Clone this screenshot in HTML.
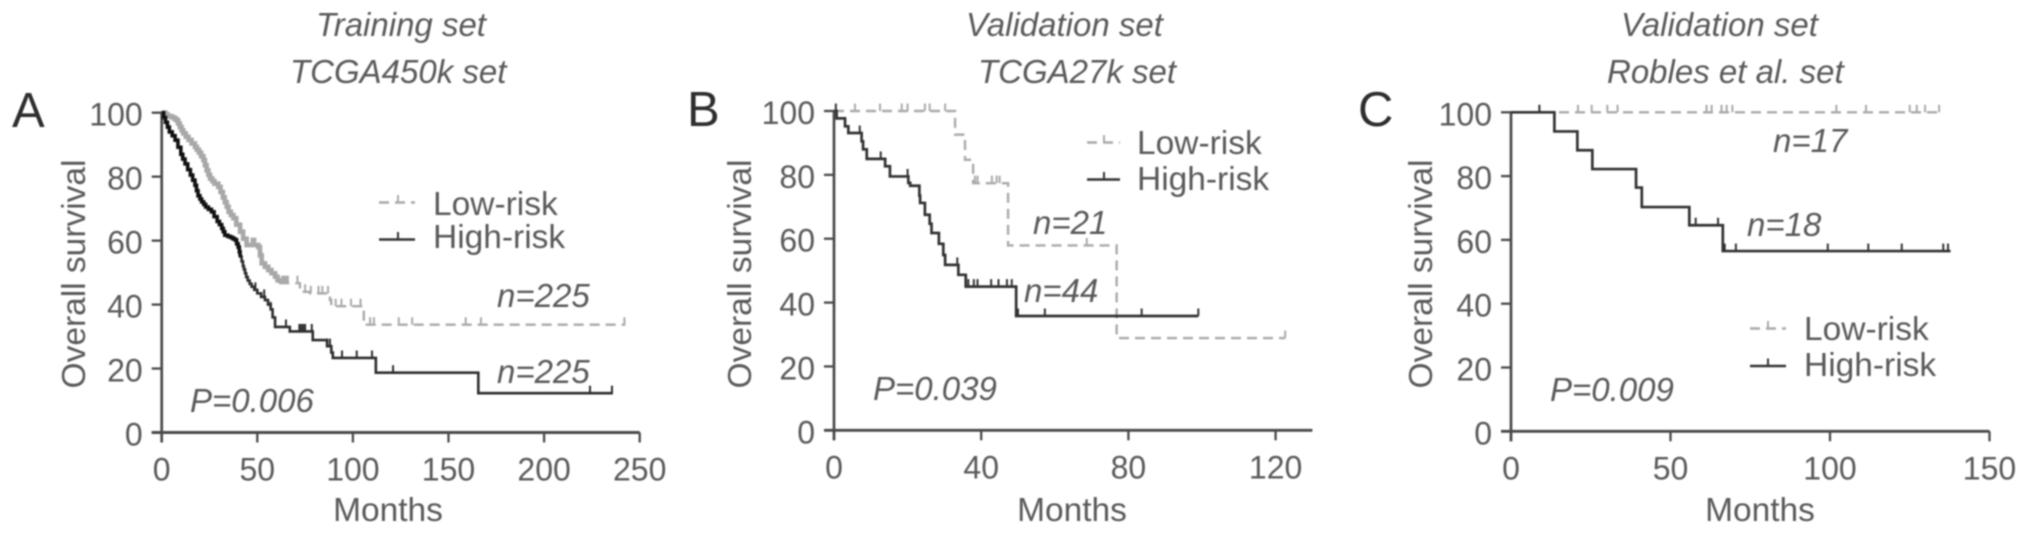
<!DOCTYPE html>
<html lang="en">
<head>
<meta charset="utf-8">
<title>Overall survival Kaplan-Meier curves</title>
<style>
html,body{margin:0;padding:0;background:#fff;width:2032px;height:536px;overflow:hidden}
svg{display:block;filter:blur(0.7px)}
text{font-family:"Liberation Sans",sans-serif;fill:#5a5a5a;font-size:32px}
.ital{font-style:italic;font-size:33px}
.legend,.xtitle{font-size:33.5px}
.letter{font-size:49px;fill:#2e2e2e}
.ytitle{font-size:33.5px}
</style>
</head>
<body>
<svg id="chart" xmlns="http://www.w3.org/2000/svg" width="2032" height="536" viewBox="0 0 2032 536">
<rect width="2032" height="536" fill="#fff"/>

<g id="panel-a">
  <text class="letter" x="12" y="127">A</text>
  <text class="ital" x="316" y="36">Training set</text>
  <text class="ital" x="290" y="83">TCGA450k set</text>
  <text class="ytitle" transform="translate(85,274) rotate(-90)" text-anchor="middle">Overall survival</text>
  <text class="xtitle" x="388" y="521" text-anchor="middle">Months</text>
  <line x1="379" y1="202.5" x2="415" y2="202.5" stroke="#aaa" stroke-width="2.4" stroke-dasharray="10 6"/>
  <line x1="398" y1="195" x2="398" y2="202.5" stroke="#aaa" stroke-width="2"/>
  <text class="legend" x="433" y="215">Low-risk</text>
  <line x1="379" y1="239.5" x2="415" y2="239.5" stroke="#333" stroke-width="2.6"/>
  <line x1="398" y1="232" x2="398" y2="239.5" stroke="#333" stroke-width="2"/>
  <text class="legend" x="433" y="248">High-risk</text>
  <text class="ital" x="497" y="307">n=225</text>
  <text class="ital" x="497" y="383">n=225</text>
  <text class="ital" x="190" y="412">P=0.006</text>
</g>

<g id="panel-b">
  <text class="letter" x="687" y="126">B</text>
  <text class="ital" x="966" y="36">Validation set</text>
  <text class="ital" x="978" y="83">TCGA27k set</text>
  <text class="ytitle" transform="translate(751,274) rotate(-90)" text-anchor="middle">Overall survival</text>
  <text class="xtitle" x="1072" y="521" text-anchor="middle">Months</text>
  <line x1="1087" y1="142.5" x2="1120" y2="142.5" stroke="#aaa" stroke-width="2.4" stroke-dasharray="10 6"/>
  <line x1="1104" y1="135" x2="1104" y2="142.5" stroke="#aaa" stroke-width="2"/>
  <text class="legend" x="1137" y="154">Low-risk</text>
  <line x1="1087" y1="179.5" x2="1120" y2="179.5" stroke="#333" stroke-width="2.6"/>
  <line x1="1104" y1="172" x2="1104" y2="179.5" stroke="#333" stroke-width="2"/>
  <text class="legend" x="1137" y="190">High-risk</text>
  <text class="ital" x="1033" y="234">n=21</text>
  <text class="ital" x="1024" y="302">n=44</text>
  <text class="ital" x="873" y="400">P=0.039</text>
</g>

<g id="panel-c">
  <text class="letter" x="1358" y="126">C</text>
  <text class="ital" x="1621" y="36">Validation set</text>
  <text class="ital" x="1607" y="83">Robles et al. set</text>
  <text class="ytitle" transform="translate(1432,274) rotate(-90)" text-anchor="middle">Overall survival</text>
  <text class="xtitle" x="1760" y="521" text-anchor="middle">Months</text>
  <line x1="1750" y1="328.5" x2="1786" y2="328.5" stroke="#aaa" stroke-width="2.4" stroke-dasharray="10 6"/>
  <line x1="1768" y1="321" x2="1768" y2="328.5" stroke="#aaa" stroke-width="2"/>
  <text class="legend" x="1804" y="340">Low-risk</text>
  <line x1="1750" y1="366" x2="1786" y2="366" stroke="#333" stroke-width="2.6"/>
  <line x1="1768" y1="358.5" x2="1768" y2="366" stroke="#333" stroke-width="2"/>
  <text class="legend" x="1804" y="376">High-risk</text>
  <text class="ital" x="1773" y="152">n=17</text>
  <text class="ital" x="1747" y="236">n=18</text>
  <text class="ital" x="1550" y="401">P=0.009</text>
</g>
</svg>

<script>
// Shared tick labels
const yTicks = [0, 20, 40, 60, 80, 100];
const xTicksA = [0, 50, 100, 150, 200, 250];
const xTicksB = [0, 40, 80, 120];
const xTicksC = [0, 50, 100, 150];

// Panel A: training set
const aLowMonths = [0,2,3,4.5,5.5,6.8,7.8,8.6,9.5,10.4,11.3,12.6,14,15.6,17.4,18.4,19.5,20.6,21.8,22.6,23.5,24.4,25.3,26.5,27.6,29.6,30.8,32,33,34,35,36.2,37.5,39,41,42.6,44.4,50.5,51.4,52.3,54,55.7,57.4,59.3,60.6,62,72.3,77.6,88,88.7,105.7,242.5];
const aLowSurvival = [100,99.5,99,98.8,98.5,98,97.6,96.6,95.5,94.5,93.5,92.5,91.5,90.4,89.3,88.4,87.5,86.4,85.2,83.6,82,80.6,79.4,78.6,77.8,76.8,75.2,73.5,72,70.6,69,68,67,65,62.8,60.6,58.6,58,55.4,52.9,51.8,50.8,49.8,48.7,47.6,46.7,44,43.5,41.4,39.5,33.7,33.7];
const aLowCensored = [47,48,49,63,64,65,66,71,75,78,82,84,87,91,94,99,104,109,111,124,131,159,167,242];
const aHighMonths = [0,1,2,3,4,5.5,7,8.5,10,11,12.2,13.6,15,16.2,17.4,18.2,19,20,20.9,22,23,24.4,26,27.4,29,30.2,31.4,32.2,33,34.6,36,37.2,38.3,39.2,40,40.6,41,41.8,42.5,43,43.6,44.2,45,46,47,48.4,50,52,54,55.6,57,58,59.3,67,79,86.5,88.7,89.5,112,165.6,236];
const aHighSurvival = [100,98.5,97,95.5,94,92.8,91.4,89.2,87,85.5,84,82.2,80.5,78.9,77.3,75.6,74,73,72.1,71.3,70.5,69.8,69,67.5,66,65,63.8,62.8,61.7,61.3,61,60.6,60.2,59,58,56.5,55,53.5,52,51,49.8,48.6,47.5,46.5,45.6,44.6,43.5,42.4,41.4,40,38.5,36,33,31.6,28.9,27,25,23.3,18.7,12.3,12.3];
const aHighCensored = [49,53.6,57,65,72,73,74,75,78.5,86.5,88,94.3,102,110,121,224,235.5];

// Panel B: TCGA27k validation set
const bLowMonths = [0,32.9,35.6,37.8,47.3,76.8,122.6];
const bLowSurvival = [100,92.6,84.7,77.4,57.9,28.9,28.9];
const bLowCensored = [5.7,12.5,18.4,20,24.7,26,30.2,38.3,39,42.9,44.2,45,68.7,122.6];
const bHighMonths = [0,0.7,3,3.9,7.5,7.9,8.9,13.9,15.2,20.2,20.7,23.2,23.4,24.7,26,26.5,28.5,29.7,30.2,33.8,35.8,49.5,99];
const bHighSurvival = [100,97.7,95.2,93.1,90.5,88,85,82.7,79.5,77.5,76.6,73.5,71.2,67.5,64.7,61.8,58.4,54.9,51.8,48.7,45,35.8,35.8];
const bHighCensored = [0.5,7,12.7,13.9,20,33.5,36.5,38,39,42.7,44.7,47,48.3,50,57.3,83.6,99];

// Panel C: Robles et al. validation set
const cLowMonths = [0,134.2];
const cLowSurvival = [100,100];
const cLowCensored = [8.9,21,25.3,30.2,33.4,61.3,62.9,66,67.6,69.4,102,111.3,125,127.2,129.8,134.2];
const cHighMonths = [0,13.6,20.8,25.5,39.2,41,55.9,66.4,137.8];
const cHighSurvival = [100,94,88.1,82.2,76.4,70.3,64.6,56.5,56.5];
const cHighCensored = [8.9,57.9,64.9,67,70.5,99.3,112,122.5,135.5,137];

const NS = 'http://www.w3.org/2000/svg';

function makeLine(parent, x1, y1, x2, y2, stroke, width) {
  const el = document.createElementNS(NS, 'line');
  el.setAttribute('x1', x1);
  el.setAttribute('y1', y1);
  el.setAttribute('x2', x2);
  el.setAttribute('y2', y2);
  el.setAttribute('stroke', stroke);
  el.setAttribute('stroke-width', width);
  parent.appendChild(el);
  return el;
}

function makeLabel(parent, x, y, anchor, content) {
  const el = document.createElementNS(NS, 'text');
  el.setAttribute('x', x);
  el.setAttribute('y', y);
  el.setAttribute('text-anchor', anchor);
  el.textContent = content;
  parent.appendChild(el);
  return el;
}

function stepPath(months, survival, sx, sy) {
  let d = 'M' + sx(months[0]) + ' ' + sy(survival[0]);
  for (let i = 1; i < months.length; i++) {
    d += ' H' + sx(months[i]) + ' V' + sy(survival[i]);
  }
  return d;
}

function makePath(parent, d, stroke, width, dash) {
  const el = document.createElementNS(NS, 'path');
  el.setAttribute('d', d);
  el.setAttribute('fill', 'none');
  el.setAttribute('stroke', stroke);
  el.setAttribute('stroke-width', width);
  el.setAttribute('stroke-linejoin', 'miter');
  if (dash) el.setAttribute('stroke-dasharray', dash);
  parent.appendChild(el);
  return el;
}

function survivalAt(months, survival, t) {
  let value = survival[0];
  for (let i = 0; i < months.length; i++) {
    if (months[i] <= t) value = survival[i];
  }
  return value;
}

function drawCurve(parent, name, months, survival, censored, sx, sy, opts) {
  const group = document.createElementNS(NS, 'g');
  
  
  parent.appendChild(group);

  const curve = makePath(group, stepPath(months, survival, sx, sy), opts.color, opts.width, opts.dash);
  
  

  if (opts.heavyUntil) {
    const keep = months.filter(m => m <= opts.heavyUntil);
    const heavy = makePath(group, stepPath(keep, survival.slice(0, keep.length), sx, sy), opts.heavyColor, opts.heavyWidth, null);
    
    
  }

  censored.forEach(function (t) {
    const y = sy(survivalAt(months, survival, t));
    const mark = makeLine(group, sx(t), y, sx(t), y - 7.5, opts.color, 2);
    
    
  });
}

function drawPanel(id, cfg) {
  const panel = document.getElementById(id);
  const sx = function (v) { return cfg.x0 + v * cfg.kx; };
  const sy = function (v) { return cfg.y0 - v * cfg.ky; };
  const axisColor = '#4a4a4a';

  const xAxis = makeLine(panel, sx(0) - 10, cfg.y0, sx(cfg.xMax), cfg.y0, axisColor, 2.9);
  
  
  const yAxis = makeLine(panel, sx(0), sy(100) - 1, sx(0), cfg.y0 + 10, axisColor, 2.7);
  
  

  yTicks.forEach(function (v) {
    const tick = makeLine(panel, sx(0) - 10, sy(v), sx(0), sy(v), axisColor, 2.3);
    
    
    const label = makeLabel(panel, sx(0) - cfg.yLabelGap, sy(v) + 13, 'end', String(v));
    
    
  });

  cfg.xTicks.forEach(function (v) {
    const tick = makeLine(panel, sx(v), cfg.y0, sx(v), cfg.y0 + 10, axisColor, 2.3);
    
    
    const label = makeLabel(panel, sx(v), cfg.y0 + 48, 'middle', String(v));
    
    
  });

  drawCurve(panel, 'low-risk-curve', cfg.lowMonths, cfg.lowSurvival, cfg.lowCensored, sx, sy, cfg.lowStyle);
  drawCurve(panel, 'high-risk-curve', cfg.highMonths, cfg.highSurvival, cfg.highCensored, sx, sy, cfg.highStyle);
}

drawPanel('panel-a', {
  x0: 161.7, kx: 1.912, y0: 432.5, ky: 3.198, xMax: 250, xTicks: xTicksA, yLabelGap: 19,
  lowMonths: aLowMonths, lowSurvival: aLowSurvival, lowCensored: aLowCensored,
  highMonths: aHighMonths, highSurvival: aHighSurvival, highCensored: aHighCensored,
  lowStyle: { color: '#aaa', width: 2.4, dash: '10 6', heavyUntil: 62, heavyColor: '#a8a8a8', heavyWidth: 4.6 },
  highStyle: { color: '#2e2e2e', width: 2.6, dash: null, heavyUntil: 41, heavyColor: '#111', heavyWidth: 3.6 }
});

drawPanel('panel-b', {
  x0: 834, kx: 3.68, y0: 430.3, ky: 3.193, xMax: 130, xTicks: xTicksB, yLabelGap: 19,
  lowMonths: bLowMonths, lowSurvival: bLowSurvival, lowCensored: bLowCensored,
  highMonths: bHighMonths, highSurvival: bHighSurvival, highCensored: bHighCensored,
  lowStyle: { color: '#aaa', width: 2.4, dash: '10 6' },
  highStyle: { color: '#333', width: 2.7, dash: null }
});

drawPanel('panel-c', {
  x0: 1511, kx: 3.19, y0: 431.3, ky: 3.19, xMax: 150, xTicks: xTicksC, yLabelGap: 19,
  lowMonths: cLowMonths, lowSurvival: cLowSurvival, lowCensored: cLowCensored,
  highMonths: cHighMonths, highSurvival: cHighSurvival, highCensored: cHighCensored,
  lowStyle: { color: '#aaa', width: 2.4, dash: '10 6' },
  highStyle: { color: '#333', width: 2.7, dash: null }
});
</script>
</body>
</html>
